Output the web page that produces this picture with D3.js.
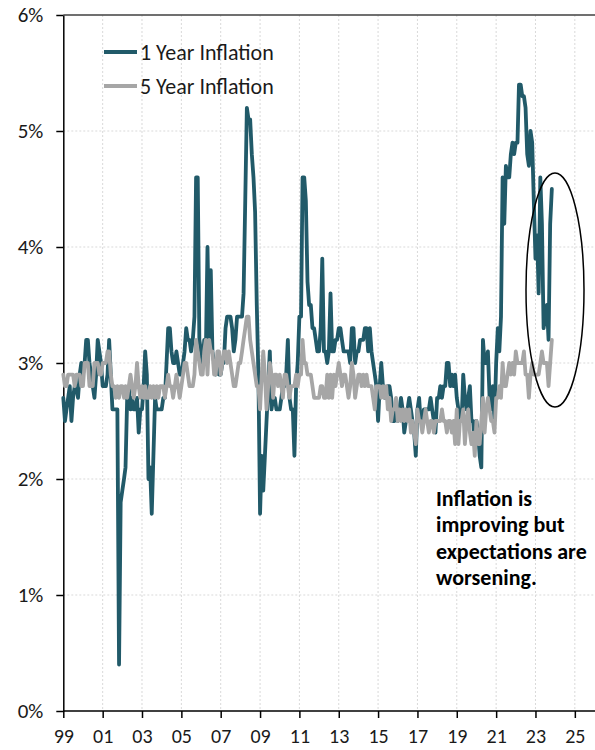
<!DOCTYPE html>
<html>
<head>
<meta charset="utf-8">
<script src="https://cdn.jsdelivr.net/npm/d3@7"></script>
<style>
  html, body { margin: 0; padding: 0; background: #fff; }
  svg { display: block; }
  .axis text { font-family: Carlito, Calibri, Lato, sans-serif; fill: #1a1a1a; }
  .y-axis text { font-size: 21px; }
  .x-axis text { font-size: 20px; }
</style>
</head>
<body>
<svg id="chart" width="595" height="750"></svg>
<script>
// Monthly survey readings, Jan 1999 onward (percent)
const startYear = 1999;

const oneYear = [
  // 1999
  2.7, 2.5, 2.6, 2.7, 2.8, 2.5, 2.7, 2.8, 2.8, 2.7, 2.9, 3.0,
  // 2000
  2.9, 3.0, 3.2, 3.2, 3.0, 2.9, 2.8, 2.7, 2.9, 3.2, 3.1, 3.0,
  // 2001
  2.8, 2.8, 2.8, 2.9, 3.2, 2.9, 2.6, 2.6, 2.6, 2.6, 0.4, 1.8,
  // 2002
  1.9, 2.0, 2.1, 2.7, 2.8, 2.6, 2.7, 2.6, 2.6, 2.7, 2.4, 2.6,
  // 2003
  2.6, 2.8, 3.1, 2.9, 2.0, 2.1, 1.7, 2.2, 2.7, 2.6, 2.6, 2.6,
  // 2004
  2.6, 2.7, 2.7, 3.0, 3.3, 3.3, 3.1, 3.0, 3.0, 3.1, 3.0, 2.9,
  // 2005
  2.9, 3.0, 3.1, 3.3, 3.2, 3.2, 3.1, 3.2, 3.4, 4.6, 4.6, 3.2,
  // 2006
  3.1, 3.0, 3.2, 3.1, 4.0, 3.2, 3.8, 3.1, 3.0, 2.9, 3.0, 2.9,
  // 2007
  2.9, 3.0, 3.0, 3.3, 3.4, 3.4, 3.4, 3.3, 3.1, 3.2, 3.4, 3.4,
  // 2008
  3.4, 3.4, 3.6, 4.4, 5.2, 5.1, 5.1, 4.8, 4.6, 4.3, 3.5, 2.9,
  // 2009
  1.7, 2.2, 1.9, 2.2, 2.5, 2.8, 3.1, 2.6, 2.7, 2.7, 2.6, 2.6,
  // 2010
  2.6, 2.7, 2.8, 2.8, 2.9, 3.2, 2.7, 2.6, 2.6, 2.2, 2.8, 3.0,
  // 2011
  3.4, 3.4, 4.6, 4.6, 4.4, 3.7, 3.5, 3.5, 3.3, 3.3, 3.2, 3.1,
  // 2012
  3.1, 3.3, 3.9, 3.1, 3.1, 3.0, 3.1, 3.6, 3.1, 3.1, 3.2, 3.2,
  // 2013
  3.3, 3.3, 3.2, 3.1, 3.1, 3.1, 3.1, 3.0, 3.3, 3.3, 3.0, 3.1,
  // 2014
  3.1, 3.2, 3.2, 3.2, 3.3, 3.3, 3.1, 3.3, 3.1, 3.0, 2.9, 2.8,
  // 2015
  2.5, 2.8, 3.0, 2.8, 2.7, 2.7, 2.8, 2.8, 2.7, 2.5, 2.5, 2.6,
  // 2016
  2.5, 2.6, 2.7, 2.6, 2.4, 2.5, 2.6, 2.7, 2.6, 2.5, 2.4, 2.2,
  // 2017
  2.6, 2.7, 2.5, 2.5, 2.6, 2.6, 2.6, 2.6, 2.7, 2.6, 2.5, 2.4,
  // 2018
  2.7, 2.7, 2.8, 2.7, 2.8, 2.8, 3.0, 3.0, 2.8, 2.9, 2.8, 2.9,
  // 2019
  2.7, 2.6, 2.5, 2.5, 2.9, 2.7, 2.6, 2.7, 2.8, 2.5, 2.5, 2.3,
  // 2020
  2.5, 2.4, 2.2, 2.1, 3.2, 3.0, 3.0, 3.1, 2.7, 2.6, 2.8, 2.5,
  // 2021
  3.0, 3.3, 3.1, 3.4, 4.6, 4.2, 4.7, 4.6, 4.6, 4.8, 4.9, 4.8,
  // 2022
  4.9, 4.9, 5.4, 5.4, 5.3, 5.3, 5.2, 4.8, 4.7, 5.0, 4.9, 4.4,
  // 2023
  3.9, 4.1, 3.6, 4.6, 4.2, 3.3, 3.4, 3.5, 3.2, 4.2, 4.5
];

const fiveYear = [
  // 1999
  2.9, 2.8, 2.8, 2.9, 2.9, 2.9, 2.9, 2.8, 2.9, 2.9, 2.9, 2.8,
  // 2000
  2.8, 3.0, 3.0, 3.0, 2.8, 2.8, 2.8, 3.0, 3.0, 3.0, 2.9, 2.9,
  // 2001
  3.0, 3.0, 3.0, 3.1, 3.1, 2.9, 2.8, 2.8, 2.7, 2.8, 2.7, 2.8,
  // 2002
  2.8, 2.7, 2.8, 2.7, 2.8, 2.9, 2.8, 2.7, 2.8, 3.0, 2.8, 2.7,
  // 2003
  2.8, 2.7, 2.8, 2.7, 2.7, 2.8, 2.7, 2.8, 2.7, 2.8, 2.7, 2.8,
  // 2004
  2.8, 2.8, 2.7, 2.8, 2.9, 2.8, 2.8, 2.7, 2.8, 2.9, 2.8, 2.7,
  // 2005
  2.8, 2.9, 3.0, 3.0, 2.9, 2.8, 2.8, 2.8, 2.9, 3.2, 3.1, 3.0,
  // 2006
  2.9, 2.9, 3.1, 3.2, 2.9, 3.2, 3.1, 3.1, 2.9, 2.9, 3.1, 3.1,
  // 2007
  2.9, 3.0, 3.1, 3.1, 3.0, 3.1, 3.0, 2.9, 2.8, 2.8, 2.9, 3.0,
  // 2008
  3.0, 3.1, 3.2, 3.3, 3.4, 3.4, 3.2, 3.1, 3.0, 2.9, 2.8, 2.8,
  // 2009
  2.6, 2.9, 3.1, 2.9, 2.6, 2.8, 3.0, 2.9, 2.7, 2.9, 2.9, 2.8,
  // 2010
  2.9, 2.8, 2.7, 2.9, 2.9, 2.8, 2.7, 2.8, 2.8, 2.8, 2.9, 2.8,
  // 2011
  2.9, 2.9, 3.2, 3.0, 3.0, 2.9, 2.9, 2.9, 2.8, 2.7, 2.7, 2.7,
  // 2012
  2.7, 2.8, 2.8, 2.7, 2.7, 2.9, 2.7, 2.9, 2.7, 2.9, 2.8, 2.9,
  // 2013
  3.0, 2.9, 2.8, 2.9, 2.9, 2.8, 2.7, 2.8, 3.0, 2.9, 2.7, 2.8,
  // 2014
  2.9, 2.9, 2.8, 2.9, 2.8, 2.9, 2.8, 2.8, 2.8, 2.7, 2.6, 2.8,
  // 2015
  2.8, 2.8, 2.7, 2.8, 2.7, 2.8, 2.6, 2.7, 2.5, 2.6, 2.6, 2.7,
  // 2016
  2.5, 2.6, 2.5, 2.6, 2.5, 2.6, 2.5, 2.6, 2.4, 2.5, 2.4, 2.3,
  // 2017
  2.6, 2.5, 2.5, 2.4, 2.5, 2.6, 2.5, 2.4, 2.5, 2.5, 2.4, 2.5,
  // 2018
  2.5, 2.5, 2.5, 2.6, 2.5, 2.5, 2.4, 2.5, 2.5, 2.4, 2.5, 2.3,
  // 2019
  2.6, 2.3, 2.5, 2.5, 2.6, 2.3, 2.5, 2.6, 2.4, 2.3, 2.4, 2.2,
  // 2020
  2.5, 2.3, 2.3, 2.5, 2.7, 2.4, 2.6, 2.7, 2.6, 2.5, 2.5, 2.4,
  // 2021
  2.7, 2.7, 2.8, 2.7, 3.0, 2.8, 2.8, 2.9, 3.0, 2.9, 3.0, 2.9,
  // 2022
  3.1, 3.0, 3.0, 3.0, 3.0, 3.1, 2.9, 2.9, 2.7, 2.9, 3.0, 2.9,
  // 2023
  2.9, 2.9, 2.9, 3.0, 3.1, 3.0, 3.0, 3.0, 2.8, 3.0, 3.2
];

const seriesNames = ["1 Year Inflation", "5 Year Inflation"];
const seriesColors = ["#215a69", "#a6a6a6"];
const yTickValues = [0, 1, 2, 3, 4, 5, 6];
const xTickYears = [1999, 2001, 2003, 2005, 2007, 2009, 2011, 2013, 2015, 2017, 2019, 2021, 2023, 2025];
const noteLines = ["Inflation is", "improving but", "expectations are", "worsening."];

const svg = d3.select("#chart");
const plotLeft = 63.3, plotRight = 594.5, plotTop = 15, plotBottom = 711;
const fontStack = "Carlito, Calibri, Lato, sans-serif";

const x = d3.scaleTime()
  .domain([new Date(1999, 0, 1), new Date(2026, 0, 1)])
  .range([plotLeft, plotRight]);
const y = d3.scaleLinear().domain([0, 6]).range([plotBottom, plotTop]);

const monthDate = i => d3.timeMonth.offset(new Date(startYear, 0, 1), i);

// gridlines
const grid = svg.append("g");
grid.selectAll("line.h")
  .data(yTickValues.filter(v => v > 0 && v < 6))
  .join("line")
  .attr("x1", plotLeft).attr("x2", plotRight)
  .attr("y1", d => y(d)).attr("y2", d => y(d))
  .attr("stroke", "#d9d9d9").attr("stroke-width", 1).attr("stroke-dasharray", "2,2");
grid.selectAll("line.v")
  .data(xTickYears.filter(yr => yr > 1999))
  .join("line")
  .attr("x1", d => x(new Date(d, 0, 1))).attr("x2", d => x(new Date(d, 0, 1)))
  .attr("y1", plotTop).attr("y2", plotBottom)
  .attr("stroke", "#d9d9d9").attr("stroke-width", 1).attr("stroke-dasharray", "2,2");

// top frame line
svg.append("line")
  .attr("x1", plotLeft).attr("x2", 595)
  .attr("y1", plotTop).attr("y2", plotTop)
  .attr("stroke", "#404040").attr("stroke-width", 1.5);

// axes
const yAxis = svg.append("g")
  .attr("class", "axis y-axis")
  .attr("transform", `translate(${plotLeft},0)`)
  .call(d3.axisLeft(y).tickValues(yTickValues).tickFormat(d => d + "%").tickSize(7).tickSizeOuter(0).tickPadding(13));
yAxis.selectAll("path, line").attr("stroke", "#000").attr("stroke-width", 1.5);

const xAxis = svg.append("g")
  .attr("class", "axis x-axis")
  .attr("transform", `translate(0,${plotBottom})`)
  .call(d3.axisBottom(x)
    .tickValues(xTickYears.map(yr => new Date(yr, 0, 1)))
    .tickFormat(d3.timeFormat("%y"))
    .tickSize(7).tickSizeOuter(0).tickPadding(11));
xAxis.select("path.domain").attr("d", `M${plotLeft},0H595`);
xAxis.selectAll("path, line").attr("stroke", "#000").attr("stroke-width", 1.5);

// series lines
const line = d3.line()
  .x((d, i) => x(monthDate(i)))
  .y(d => y(d));

[oneYear, fiveYear].forEach((values, k) => {
  svg.append("path")
    .datum(values)
    .attr("fill", "none")
    .attr("stroke", seriesColors[k])
    .attr("stroke-width", 3.8)
    .attr("stroke-linejoin", "round")
    .attr("stroke-linecap", "round")
    .attr("d", line);
});

// legend
const legend = svg.append("g");
seriesNames.forEach((name, k) => {
  const ly = 52 + k * 34;
  legend.append("line")
    .attr("x1", 104).attr("x2", 137)
    .attr("y1", ly).attr("y2", ly)
    .attr("stroke", seriesColors[k]).attr("stroke-width", 4);
  legend.append("text")
    .attr("x", 140).attr("y", ly)
    .attr("dy", "0.35em")
    .attr("font-family", fontStack)
    .attr("font-size", 22)
    .attr("fill", "#1a1a1a")
    .text(name);
});

// highlight ellipse around the latest readings
svg.append("ellipse")
  .attr("cx", 555).attr("cy", 290)
  .attr("rx", 29).attr("ry", 117)
  .attr("fill", "none").attr("stroke", "#000").attr("stroke-width", 1.5);

// annotation
const note = svg.append("text")
  .attr("x", 436).attr("y", 506)
  .attr("font-family", fontStack)
  .attr("font-weight", "bold")
  .attr("font-size", 22)
  .attr("fill", "#000");
noteLines.forEach((t, i) => {
  note.append("tspan").attr("x", 436).attr("dy", i === 0 ? 0 : 26.4).text(t);
});
</script>
</body>
</html>
